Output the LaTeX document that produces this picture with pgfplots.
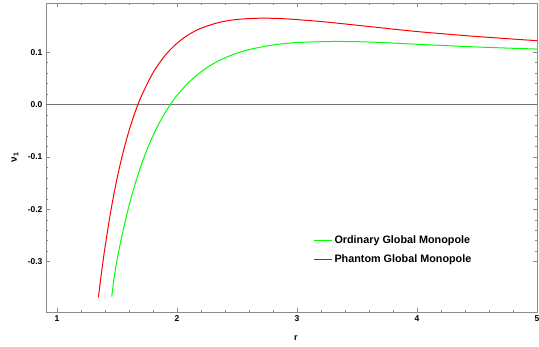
\documentclass[border=0pt]{standalone}
\usepackage{fontspec}
\setmainfont{Liberation Sans}
\usepackage{pgfplots}
\pgfplotsset{compat=1.18}
\definecolor{mgreen}{RGB}{0,255,0}
\definecolor{mred}{RGB}{255,0,0}
\begin{document}
\begin{tikzpicture}
\begin{axis}[name=ax,
  scale only axis, width=491pt, height=309pt,
  xmin=0.908, xmax=5.0, ymin=-0.396, ymax=0.194,
  xtick={1,2,3,4,5}, minor x tick num=4,
  ytick={-0.3,-0.2,-0.1,0,0.1},
  yticklabels={-0.3,-0.2,-0.1,0.0,0.1},
  minor y tick num=4,
  tick align=inside, major tick length=4pt, minor tick length=2.2pt,
  axis line style={black!45, line width=0.8pt},
  every tick/.style={black!45, line width=0.6pt},
  tick label style={font=\bfseries\fontsize{8.5}{10}\selectfont},
  /pgf/number format/assume math mode=true,
  xlabel={\textbf{r}}, ylabel={\textbf{ν\textsubscript{1}}},
  every axis x label/.style={at={(axis description cs:0.509,0)}, yshift=-26pt, anchor=center, font=\fontsize{9}{10}\selectfont},
  every axis y label/.style={at={(axis description cs:0,0.5)}, xshift=-31pt, rotate=90, anchor=center, font=\fontsize{10}{11}\selectfont},
  legend style={draw=none, fill=none, at={(axis cs:3.11,-0.243)}, anchor=north west,
    font=\bfseries\fontsize{10.8}{12}\selectfont, row sep=5pt, cells={anchor=west}},
  legend image code/.code={\draw[#1, line width=1.1pt] (0pt,0pt) -- (18pt,0pt);},
]
\addplot[black!55, line width=0.7pt, forget plot] coordinates {(0.908,0) (5,0)};
\addplot[color=mgreen, line width=1pt, smooth] coordinates {
(1.456,-0.3667) (1.475,-0.3320) (1.5,-0.2963) (1.55,-0.2408) (1.6,-0.1932) (1.65,-0.1521)
(1.7,-0.1166) (1.75,-0.0859) (1.8,-0.0592) (1.85,-0.0359) (1.9,-0.0156) (1.95,0.0021)
(2.0,0.0176) (2.1,0.0430) (2.2,0.0626) (2.3,0.0777) (2.4,0.0893) (2.5,0.0983)
(2.6,0.1051) (2.8,0.1139) (3.0,0.1185) (3.3,0.1205) (3.6,0.1195) (4.0,0.1152)
(4.5,0.1100) (5.0,0.1060)
};
\addlegendentry{Ordinary Global Monopole}
\addplot[color=mred, line width=1pt, smooth] coordinates {
(1.345,-0.3679) (1.36,-0.3399) (1.38,-0.3048) (1.40,-0.2723) (1.45,-0.2007) (1.5,-0.1412)
(1.55,-0.0915) (1.6,-0.0498) (1.65,-0.0148) (1.7,0.0148) (1.8,0.0608) (1.9,0.0937)
(2.0,0.1172) (2.1,0.1340) (2.2,0.1458) (2.35,0.1569) (2.5,0.1626) (2.7,0.1650)
(2.9,0.1638) (3.2,0.1586) (3.6,0.1491) (4.0,0.1395) (4.5,0.1300) (5.0,0.1220)
};
\addlegendentry{Phantom Global Monopole}
\end{axis}
\pgfresetboundingbox
\path (ax.south west) ++(-46pt,-35pt) rectangle ([shift={(2pt,3pt)}]ax.north east);
\end{tikzpicture}
\end{document}
